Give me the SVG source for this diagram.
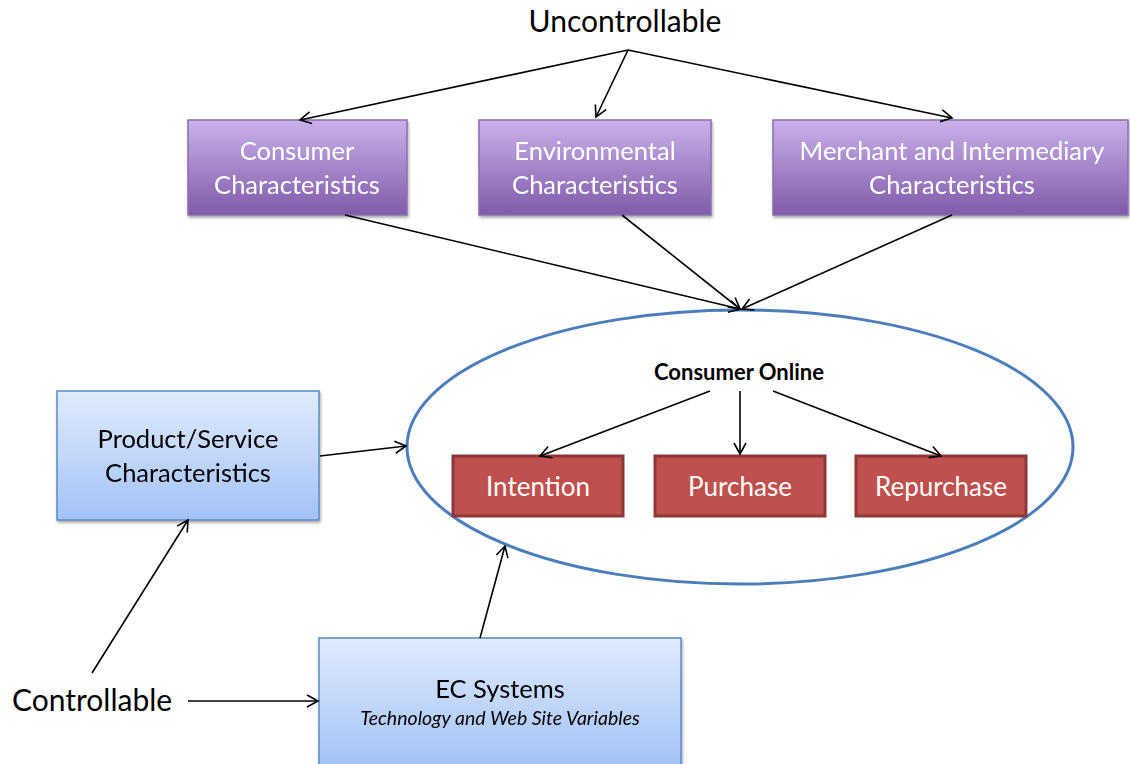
<svg xmlns="http://www.w3.org/2000/svg" width="1130" height="764" viewBox="0 0 1130 764">
<defs>
<linearGradient id="gp" x1="0" y1="0" x2="0" y2="1"><stop offset="0" stop-color="#c9b1ea"/><stop offset="1" stop-color="#7f5ba8"/></linearGradient>
<linearGradient id="gb" x1="0" y1="0" x2="0" y2="1"><stop offset="0" stop-color="#e0ebfd"/><stop offset="1" stop-color="#a3c2f6"/></linearGradient>
<marker id="ah" markerWidth="14" markerHeight="14" refX="12" refY="7" orient="auto" markerUnits="userSpaceOnUse"><path d="M1,1 L12,7 L1,13" fill="none" stroke="#000" stroke-width="1.6"/></marker>
<filter id="sh" x="-5%" y="-5%" width="110%" height="115%"><feDropShadow dx="1" dy="2" stdDeviation="1.5" flood-opacity="0.35"/></filter>
</defs>
<style>
text{font-family:Lato,"Liberation Sans",sans-serif}
.purple{fill:url(#gp);stroke:#8a6fb0;stroke-width:1.5}
.blue{fill:url(#gb);stroke:#5a8ac6;stroke-width:1.5}
.red{fill:#c0504d;stroke:#8c3836;stroke-width:3}
.wt{fill:#fff;font-size:25.5px;text-anchor:middle}
.rt{fill:#fff;font-size:26px;text-anchor:middle}
.bt{fill:#000;font-size:25.5px;text-anchor:middle}
.big{fill:#000;font-size:30px}
.c line{stroke:#000;stroke-width:1.6;marker-end:url(#ah)}
</style>
<text class="big" x="625" y="32" text-anchor="middle">Uncontrollable</text>
<text class="big" x="12" y="711">Controllable</text>
<g id="consumer" filter="url(#sh)"><rect class="purple" x="188" y="120" width="219" height="95"/><text class="wt" x="297" y="160">Consumer</text><text class="wt" x="297" y="194">Characteristics</text></g>
<g id="environmental" filter="url(#sh)"><rect class="purple" x="479" y="120" width="232" height="95"/><text class="wt" x="595" y="160">Environmental</text><text class="wt" x="595" y="194">Characteristics</text></g>
<g id="merchant" filter="url(#sh)"><rect class="purple" x="773" y="120" width="355" height="95"/><text class="wt" x="952" y="160">Merchant and Intermediary</text><text class="wt" x="952" y="194">Characteristics</text></g>
<g id="consumer-online"><ellipse cx="740" cy="447" rx="333" ry="137" fill="none" stroke="#4a7ebb" stroke-width="3"/><text x="739" y="380" font-size="22" font-weight="bold" text-anchor="middle">Consumer Online</text></g>
<g id="intention"><rect class="red" x="453" y="456" width="170" height="60"/><text class="rt" x="538" y="496">Intention</text></g>
<g id="purchase"><rect class="red" x="655" y="456" width="170" height="60"/><text class="rt" x="740" y="496">Purchase</text></g>
<g id="repurchase"><rect class="red" x="856" y="456" width="170" height="60"/><text class="rt" x="941" y="496">Repurchase</text></g>
<g id="product" filter="url(#sh)"><rect class="blue" x="57" y="391" width="262" height="129"/><text class="bt" x="188" y="448">Product/Service</text><text class="bt" x="188" y="482">Characteristics</text></g>
<g id="ec" filter="url(#sh)"><rect class="blue" x="319" y="638" width="362" height="128"/><text class="bt" x="500" y="698" font-size="25">EC Systems</text><text x="500" y="725" font-size="19.5" font-style="italic" text-anchor="middle">Technology and Web Site Variables</text></g>
<g class="c" id="connectors">
<line x1="628" y1="50" x2="300" y2="120"/>
<line x1="628" y1="50" x2="596" y2="117"/>
<line x1="628" y1="50" x2="952" y2="118"/>
<line x1="345" y1="215" x2="740" y2="309"/>
<line x1="622" y1="215" x2="740" y2="309"/>
<line x1="952" y1="215" x2="742" y2="309"/>
<line x1="710" y1="391" x2="540" y2="456"/>
<line x1="740" y1="391" x2="740" y2="454"/>
<line x1="773" y1="391" x2="941" y2="456"/>
<line x1="320" y1="456" x2="406" y2="446"/>
<line x1="480" y1="638" x2="505" y2="546"/>
<line x1="92" y1="673" x2="188" y2="520"/>
<line x1="188" y1="701" x2="318" y2="701"/>
</g>
</svg>
